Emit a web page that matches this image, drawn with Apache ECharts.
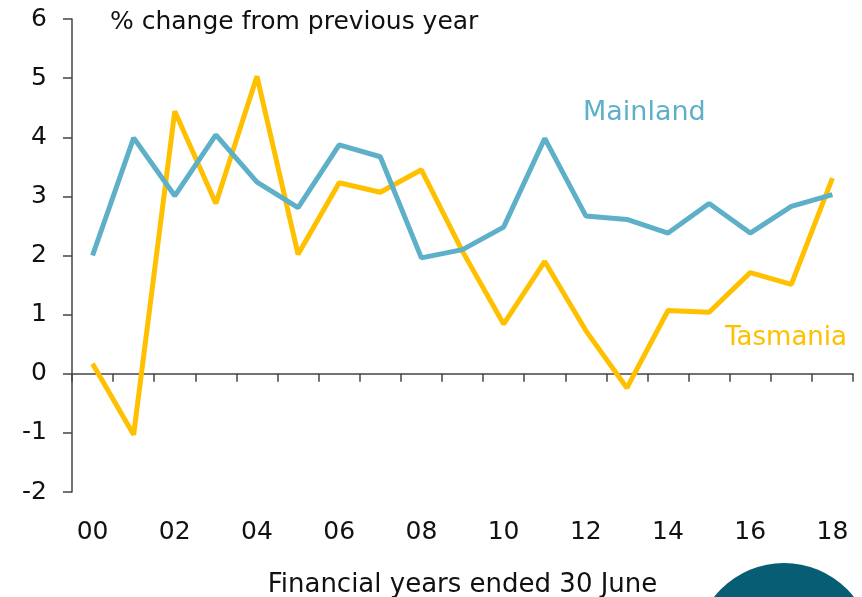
<!DOCTYPE html>
<html>
<head>
<meta charset="utf-8">
<script src="https://cdn.jsdelivr.net/npm/echarts@6/dist/echarts.min.js"></script>
<style>
html,body{margin:0;padding:0;background:#fff;overflow:hidden;}
#chart{width:862px;height:597px;}
</style>
</head>
<body>
<div id="chart"></div>
<script>
const years = ['00','01','02','03','04','05','06','07','08','09','10','11','12','13','14','15','16','17','18'];
const mainland = [2.0, 3.99, 3.01, 4.04, 3.24, 2.81, 3.87, 3.67, 1.96, 2.1, 2.48, 3.98, 2.67, 2.61, 2.38, 2.88, 2.38, 2.83, 3.03];
const tasmania = [0.17, -1.03, 4.44, 2.88, 5.03, 2.02, 3.23, 3.07, 3.45, 2.07, 0.84, 1.9, 0.73, -0.24, 1.07, 1.04, 1.71, 1.51, 3.31];
const yTicks = {min: -2, max: 6, step: 1};

const FONT = 'DejaVu Sans';
const chart = echarts.init(document.getElementById('chart'), null, {renderer: 'canvas'});
chart.setOption({
  animation: false,
  backgroundColor: '#fff',
  textStyle: {fontFamily: FONT},
  title: {
    text: '% change from previous year',
    left: 105, top: 5,
    textStyle: {fontFamily: FONT, fontSize: 25, fontWeight: 'normal', color: '#111'}
  },
  grid: {left: 72, right: 9, top: 19, bottom: 105, containLabel: false, outerBoundsMode: 'none'},
  xAxis: [{
    type: 'category',
    data: years,
    boundaryGap: true,
    axisLine: {onZero: true, lineStyle: {color: '#444', width: 1.5}},
    axisTick: {show: true, inside: false, length: 8, interval: 0, lineStyle: {color: '#444', width: 1.5}},
    axisLabel: {show: false},
    splitLine: {show: false}
  }, {
    type: 'category',
    data: years,
    position: 'bottom',
    boundaryGap: true,
    axisLine: {show: false, onZero: false},
    axisTick: {show: false},
    axisLabel: {show: true, interval: 1, margin: 28, fontFamily: FONT, fontSize: 25, color: '#111'},
    splitLine: {show: false},
    name: 'Financial years ended 30 June',
    nameLocation: 'middle',
    nameGap: 80,
    nameTextStyle: {fontFamily: FONT, fontSize: 26, color: '#111'}
  }],
  yAxis: {
    type: 'value',
    min: yTicks.min, max: yTicks.max, interval: yTicks.step,
    axisLine: {show: true, lineStyle: {color: '#444', width: 1.5}},
    axisTick: {show: true, length: 9, lineStyle: {color: '#444', width: 1.5}},
    axisLabel: {margin: 25, fontFamily: FONT, fontSize: 25, color: '#111'},
    splitLine: {show: false}
  },
  series: [{
    name: 'Mainland',
    type: 'line',
    xAxisIndex: 0,
    data: mainland,
    symbol: 'none',
    lineStyle: {color: '#5eb0c9', width: 5},
    z: 3
  }, {
    name: 'Tasmania',
    type: 'line',
    xAxisIndex: 0,
    data: tasmania,
    symbol: 'none',
    lineStyle: {color: '#ffc000', width: 5},
    z: 2
  }],
  graphic: [
    {type: 'text', left: 583, top: 99, style: {text: 'Mainland', font: '27px "DejaVu Sans"', fill: '#5eb0c9'}},
    {type: 'text', left: 725, top: 325, style: {text: 'Tasmania', font: '26px "DejaVu Sans"', fill: '#ffc000'}},
    {type: 'circle', shape: {cx: 784, cy: 652, r: 89}, style: {fill: '#075e74'}, z: 10}
  ]
});
</script>
</body>
</html>
